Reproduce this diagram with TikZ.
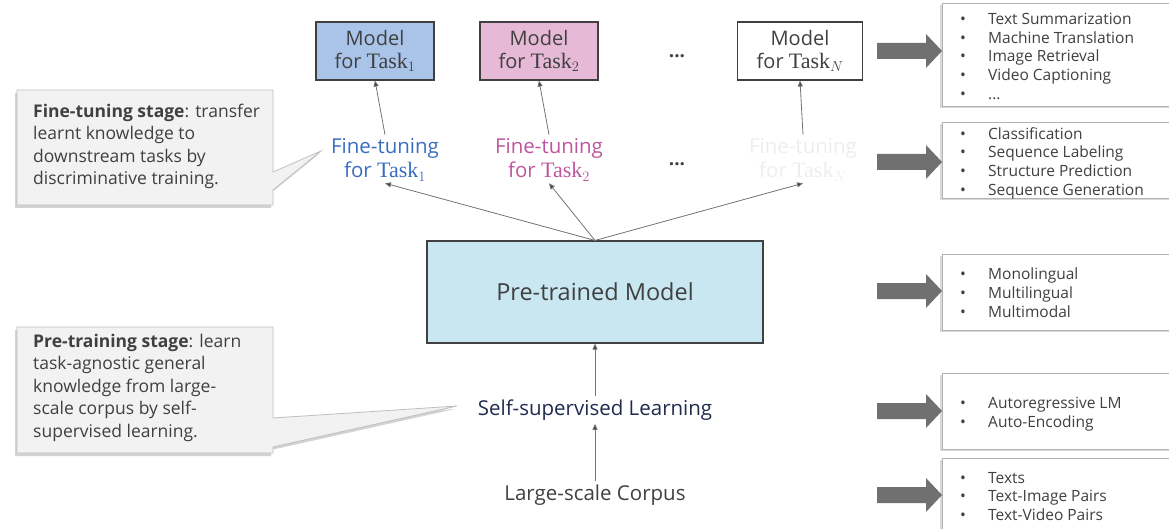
\documentclass[tikz,border=0pt]{standalone}
\usepackage{fontspec}
\setmainfont{Open Sans}
\newfontfamily\taskfont{Liberation Serif}
\usetikzlibrary{positioning, arrows.meta, shadows}
\definecolor{taskblue}{HTML}{A9C4E8}
\definecolor{taskpink}{HTML}{E6B9D6}
\definecolor{pretrain}{HTML}{C8E7F1}
\definecolor{ftblue}{HTML}{3A6DC0}
\definecolor{ftpink}{HTML}{C0559E}
\definecolor{ftgrey}{HTML}{EDEDED}
\definecolor{navy}{HTML}{1F2A4F}
\definecolor{txtgrey}{HTML}{404040}
\definecolor{bigarrow}{HTML}{707070}
\newcommand{\itm}[1]{\makebox[28pt][l]{\textbullet}#1}
\newcommand{\task}[1]{{\taskfont\fontsize{22}{24}\selectfont Task}$_{#1}$}

\begin{document}
\begin{tikzpicture}[x=1pt, y=-1pt]
    \tikzstyle{modelbox} = [rectangle, draw=black!75, line width=1.1pt, minimum width=118pt, minimum height=58pt, align=center, text=txtgrey, font=\fontsize{20}{23}\selectfont, inner sep=0pt]
    \tikzstyle{stage} = [align=center, font=\fontsize{20.5}{24}\selectfont, inner sep=2pt]
    \tikzstyle{arr} = [draw=black!55, line width=0.8pt, -{Triangle[length=6pt, width=5pt, fill=black!75]}]
    \tikzstyle{callout} = [fill=black!5, draw=black!25, line width=0.8pt, drop shadow={opacity=0.35, shadow xshift=-2pt, shadow yshift=-3pt}]
    \tikzstyle{listbox} = [fill=white, draw=black!30, line width=0.8pt, drop shadow={opacity=0.3, shadow xshift=-2pt, shadow yshift=-2pt}]
    \tikzstyle{listtext} = [anchor=north west, align=left, text=txtgrey, font=\fontsize{15.5}{18.7}\selectfont, inner sep=0pt]
    \tikzstyle{calltext} = [anchor=north west, align=left, text=txtgrey, font=\fontsize{17.5}{22.4}\selectfont, inner sep=0pt]

    \useasboundingbox (0,0) rectangle (1169,529);

    % callouts
    \path[callout] (17,90) -- (273,90) -- (273,172) -- (321,151) -- (273,190) -- (273,205) -- (17,205) -- cycle;
    \node[calltext] (ftnote) at (33,104) {\textbf{Fine-tuning stage}: transfer\\learnt knowledge to\\downstream tasks by\\discriminative training.};
    \path[callout] (17,327) -- (273,327) -- (273,418) -- (457,406) -- (273,447) -- (273,453) -- (17,453) -- cycle;
    \node[calltext] (ptnote) at (33,334) {\textbf{Pre-training stage}: learn\\task-agnostic general\\knowledge from large-\\scale corpus by self-\\supervised learning.};

    % models for tasks
    \node[modelbox, fill=taskblue] (m1) at (375,51) {Model\\for \task{1}};
    \node[modelbox, fill=taskpink] (m2) at (539,51) {Model\\for \task{2}};
    \node[modelbox, fill=white, minimum width=125pt] (mN) at (800,51) {Model\\for \task{N}};
    \node[text=txtgrey, font=\bfseries\fontsize{19}{23}\selectfont] (dots1) at (677,56) {...};

    % fine-tuning
    \node[stage, text=ftblue] (f1) at (385,160) {Fine-tuning\\for \task{1}};
    \node[stage, text=ftpink] (f2) at (549,160) {Fine-tuning\\for \task{2}};
    \node[stage, text=ftgrey] (fN) at (803,160) {Fine-tuning\\for \task{N}};
    \node[text=txtgrey, font=\bfseries\fontsize{19}{23}\selectfont] (dots2) at (677,164) {...};

    % pre-training
    \node[rectangle, draw=black!75, line width=1.1pt, fill=pretrain, minimum width=336pt, minimum height=102pt, text=txtgrey, font=\fontsize{23.5}{26}\selectfont] (ptm) at (595,292) {Pre-trained Model};
    \node[text=navy, font=\fontsize{20.5}{23}\selectfont] (ssl) at (595,410) {Self-supervised Learning};
    \node[text=txtgrey, font=\fontsize{20.5}{23}\selectfont] (corpus) at (595,495) {Large-scale Corpus};

    \draw[arr] (f1.north) ++(0,-2) -- (m1.south);
    \draw[arr] (f2.north) ++(0,-2) -- (m2.south);
    \draw[arr] (fN.north) ++(0,-2) -- (mN.south);
    \draw[arr] (ptm.north) -- (f1.south);
    \draw[arr] (ptm.north) -- (f2.south);
    \draw[arr] (ptm.north) -- (fN.south);
    \draw[arr] (ssl.north) -- (ptm.south);
    \draw[arr] (corpus.north) -- (ssl.south);

    % lists on the right
    \path[listbox] (942,3) rectangle (1190,106);
    \path[listbox] (942,122) rectangle (1190,198);
    \path[listbox] (942,254) rectangle (1190,330);
    \path[listbox] (942,373) rectangle (1190,449);
    \path[listbox] (942,458) rectangle (1190,545);
    \node[listtext] (l1) at (960,13) {\itm{Text Summarization}\\\itm{Machine Translation}\\\itm{Image Retrieval}\\\itm{Video Captioning}\\\itm{...}};
    \node[listtext] (l2) at (960,127) {\itm{Classification}\\\itm{Sequence Labeling}\\\itm{Structure Prediction}\\\itm{Sequence Generation}};
    \node[listtext] (l3) at (960,268) {\itm{Monolingual}\\\itm{Multilingual}\\\itm{Multimodal}};
    \node[listtext] (l4) at (960,397) {\itm{Autoregressive LM}\\\itm{Auto-Encoding}};
    \node[listtext] (l5) at (960,472) {\itm{Texts}\\\itm{Text-Image Pairs}\\\itm{Text-Video Pairs}};

    % big arrows
    \foreach \y in {51,162,291,411,495}
        \fill[bigarrow] (877,\y-8) -- (926,\y-8) -- (926,\y-17) -- (942,\y) -- (926,\y+17) -- (926,\y+8) -- (877,\y+8) -- cycle;

\end{tikzpicture}
\end{document}
